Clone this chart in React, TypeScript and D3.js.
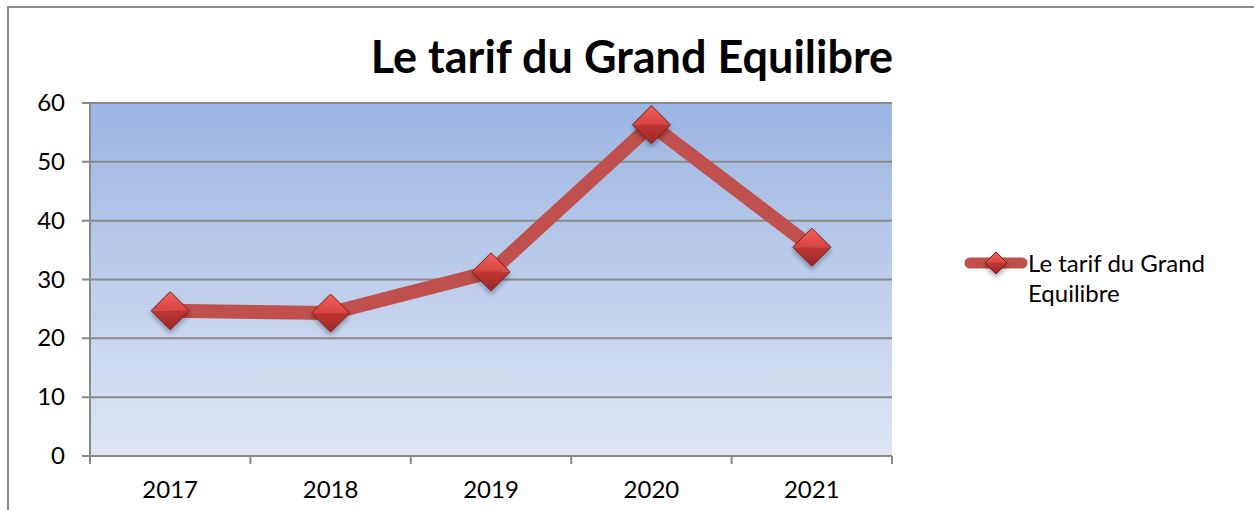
import { useEffect, useRef } from 'react';
import * as d3 from 'd3';

const years = ['2017', '2018', '2019', '2020', '2021'];
const tarif = [24.7, 24.3, 31.3, 56.3, 35.5];
const yTicks = [0, 10, 20, 30, 40, 50, 60];
const title = 'Le tarif du Grand Equilibre';
const legendLines = ['Le tarif du Grand', 'Equilibre'];

const App = () => {
  const ref = useRef<SVGSVGElement>(null);

  useEffect(() => {
    const svg = d3.select(ref.current);
    svg.selectAll('*').remove();
    const font = 'Lato, "Open Sans", sans-serif';
    const margin = { top: 103, left: 90 };
    const innerWidth = 802;
    const innerHeight = 353;

    const defs = svg.append('defs');
    const bg = defs.append('linearGradient').attr('id', 'bg').attr('x1', 0).attr('y1', 0).attr('x2', 0).attr('y2', 1);
    bg.append('stop').attr('offset', '0%').attr('stop-color', '#9bb5e2');
    bg.append('stop').attr('offset', '100%').attr('stop-color', '#dfe6f4');

    const top = defs.append('linearGradient').attr('id', 'mkTop').attr('x1', 0).attr('y1', 0).attr('x2', 0).attr('y2', 1);
    top.append('stop').attr('offset', '0%').attr('stop-color', '#f26060');
    top.append('stop').attr('offset', '100%').attr('stop-color', '#d84440');
    const bot = defs.append('linearGradient').attr('id', 'mkBot').attr('x1', 0).attr('y1', 0).attr('x2', 0).attr('y2', 1);
    bot.append('stop').attr('offset', '0%').attr('stop-color', '#c03532');
    bot.append('stop').attr('offset', '100%').attr('stop-color', '#9e2826');

    const shadow = defs.append('filter').attr('id', 'shadow').attr('x', '-50%').attr('y', '-50%').attr('width', '200%').attr('height', '200%');
    shadow.append('feDropShadow').attr('dx', 0).attr('dy', 3).attr('stdDeviation', 2.5)
      .attr('flood-color', '#000').attr('flood-opacity', 0.35);

    // outer frame
    svg.append('rect').attr('x', 8).attr('y', 7).attr('width', 1300).attr('height', 600)
      .attr('fill', 'white').attr('stroke', '#8c8c8c').attr('stroke-width', 2);

    svg.append('text').text(title)
      .attr('x', 632).attr('y', 73).attr('text-anchor', 'middle')
      .attr('font-family', font).attr('font-weight', 'bold').attr('font-size', 45).attr('fill', '#000');

    const g = svg.append('g').attr('transform', `translate(${margin.left},${margin.top})`);

    const xScale = d3.scaleBand().domain(years).range([0, innerWidth]);
    const yScale = d3.scaleLinear().domain([0, 60]).range([innerHeight, 0]);

    g.append('rect').attr('width', innerWidth).attr('height', innerHeight).attr('fill', 'url(#bg)');

    // gridlines
    g.selectAll('.grid').data(yTicks).enter().append('line')
      .attr('x1', -8).attr('x2', innerWidth)
      .attr('y1', d => yScale(d)).attr('y2', d => yScale(d))
      .attr('stroke', '#898989').attr('stroke-width', 2);

    g.append('line').attr('x1', 0).attr('x2', 0).attr('y1', 0).attr('y2', innerHeight)
      .attr('stroke', '#898989').attr('stroke-width', 2);

    const xTicks = [...years.map(d => xScale(d) as number), innerWidth];
    g.selectAll('.xt').data(xTicks).enter().append('line')
      .attr('x1', d => d).attr('x2', d => d)
      .attr('y1', innerHeight).attr('y2', innerHeight + 8)
      .attr('stroke', '#898989').attr('stroke-width', 2);

    g.selectAll('.yl').data(yTicks).enter().append('text')
      .text(d => d)
      .attr('x', -25).attr('y', d => yScale(d) + 8)
      .attr('text-anchor', 'end')
      .attr('font-family', font).attr('font-size', 24).attr('fill', '#000');

    g.selectAll('.xl').data(years).enter().append('text')
      .text(d => d)
      .attr('x', d => (xScale(d) as number) + xScale.bandwidth() / 2)
      .attr('y', innerHeight + 42)
      .attr('text-anchor', 'middle')
      .attr('font-family', font).attr('font-size', 24).attr('fill', '#000');

    const pts = years.map((d, i) => [(xScale(d) as number) + xScale.bandwidth() / 2, yScale(tarif[i])] as [number, number]);

    g.append('path').attr('d', d3.line()(pts))
      .attr('fill', 'none').attr('stroke', '#c0504d').attr('stroke-width', 14)
      .attr('stroke-linejoin', 'miter');

    const marker = (parent: any, x: number, y: number, r: number) => {
      const m = parent.append('g').attr('transform', `translate(${x},${y})`).attr('filter', 'url(#shadow)');
      m.append('path').attr('d', `M${-r},0L0,${-r}L${r},0Z`).attr('fill', 'url(#mkTop)');
      m.append('path').attr('d', `M${-r},0L${r},0L0,${r}Z`).attr('fill', 'url(#mkBot)');
      m.append('path').attr('d', `M${-r},0L0,${-r}L${r},0L0,${r}Z`).attr('fill', 'none')
        .attr('stroke', '#7a1f1d').attr('stroke-width', 1);
    };

    pts.forEach(p => marker(g, p[0], p[1], 19));

    // legend
    svg.append('line').attr('x1', 970).attr('x2', 1022).attr('y1', 263).attr('y2', 263)
      .attr('stroke', '#c0504d').attr('stroke-width', 11).attr('stroke-linecap', 'round');
    marker(svg, 996, 263, 11);
    svg.selectAll('.lg').data(legendLines).enter().append('text')
      .text(d => d)
      .attr('x', 1028).attr('y', (d, i) => 272 + i * 30)
      .attr('font-family', font).attr('font-size', 24).attr('fill', '#000');
  }, []);

  return (
    <div>
      <svg ref={ref} width={1254} height={510}
        style={{ position: 'absolute', left: 0, top: 0, display: 'block' }} />
    </div>
  );
};

export default App;
